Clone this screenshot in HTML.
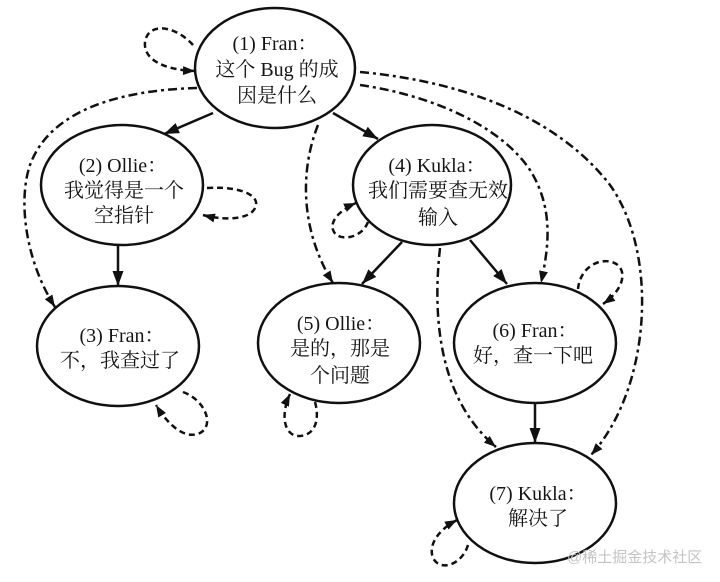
<!DOCTYPE html>
<html>
<head>
<meta charset="utf-8">
<style>
  html,body{margin:0;padding:0;background:#fff;}
  svg{display:block;}
  .t{font-family:"Liberation Serif","Noto Serif CJK SC",serif;font-size:20px;fill:#151515;text-anchor:middle;}
  .wm{font-family:"Liberation Sans","Noto Sans CJK SC",sans-serif;font-size:15px;fill:#c4c4c4;}
</style>
</head>
<body>
<svg width="720" height="582" viewBox="0 0 720 582" xmlns="http://www.w3.org/2000/svg">
  <defs>
    <marker id="s" markerWidth="16" markerHeight="12" refX="15" refY="6" orient="auto" markerUnits="userSpaceOnUse">
      <path d="M0,0.5 L15,6 L0,11.5 z" fill="#111"/>
    </marker>
    <marker id="d" markerWidth="13" markerHeight="10" refX="12" refY="5" orient="auto" markerUnits="userSpaceOnUse">
      <path d="M0,0.5 L12,5 L0,9.5 z" fill="#111"/>
    </marker>
  </defs>

  <!-- ellipses -->
  <g fill="none" stroke="#111" stroke-width="2.5">
    <ellipse cx="275" cy="68" rx="80" ry="60"/>
    <ellipse cx="122" cy="185" rx="81" ry="60"/>
    <ellipse cx="118" cy="346" rx="81" ry="60"/>
    <ellipse cx="432" cy="185" rx="79" ry="60"/>
    <ellipse cx="339" cy="343" rx="81" ry="60"/>
    <ellipse cx="535" cy="343" rx="81" ry="60"/>
    <ellipse cx="535" cy="503" rx="81" ry="60"/>
  </g>

  <!-- solid arrows -->
  <g fill="none" stroke="#111" stroke-width="2.5">
    <path d="M213,113 L164,134" marker-end="url(#s)"/>
    <path d="M333,113 L378,139" marker-end="url(#s)"/>
    <path d="M118,246 L118,286" marker-end="url(#s)"/>
    <path d="M402,242 L362,284" marker-end="url(#s)"/>
    <path d="M470,240 L507,284" marker-end="url(#s)"/>
    <path d="M535,403 L535,443" marker-end="url(#s)"/>
  </g>

  <!-- dash-dot edges -->
  <g fill="none" stroke="#111" stroke-width="2.5" stroke-dasharray="9 4 3 4">
    <path d="M197,88 C120,90 50,110 30,165 C18,200 25,260 55,307" marker-end="url(#d)"/>
    <path d="M318,125 C300,170 300,230 333,283" marker-end="url(#d)"/>
    <path d="M440,248 C432,320 440,400 496,447" marker-end="url(#d)"/>
    <path d="M360,85 C430,95 500,125 530,170 C555,210 548,250 541,283" marker-end="url(#d)"/>
    <path d="M360,72 C470,82 560,120 610,185 C660,255 650,390 591,455" marker-end="url(#d)"/>
  </g>

  <!-- self loops (dashed) -->
  <g fill="none" stroke="#111" stroke-width="2.5" stroke-dasharray="6 4">
    <path d="M193,45 C175,25 148,22 145,42 C143,60 165,70 195,71" marker-end="url(#d)"/>
    <path d="M207,188 C240,186 258,195 256,205 C254,218 230,222 203,215" marker-end="url(#d)"/>
    <path d="M368,222 C362,238 340,242 334,232 C328,222 340,210 356,203" marker-end="url(#d)"/>
    <path d="M578,289 C580,268 598,258 612,262 C628,267 626,288 603,304" marker-end="url(#d)"/>
    <path d="M183,392 C205,400 215,425 200,433 C185,440 168,425 156,405" marker-end="url(#d)"/>
    <path d="M315,402 C320,420 315,435 300,436 C284,437 280,415 290,394" marker-end="url(#d)"/>
    <path d="M468,545 C462,565 440,572 433,558 C428,545 438,530 457,520" marker-end="url(#d)"/>
  </g>

  <!-- labels -->
  <text class="t" x="275" y="50">(1) Fran：</text>
  <text class="t" x="277" y="76">这个 Bug 的成</text>
  <text class="t" x="277" y="102">因是什么</text>

  <text class="t" x="123" y="172">(2) Ollie：</text>
  <text class="t" x="124" y="197">我觉得是一个</text>
  <text class="t" x="124" y="222">空指针</text>

  <text class="t" x="122" y="342">(3) Fran：</text>
  <text class="t" x="120" y="367">不，我查过了</text>

  <text class="t" x="437" y="172">(4) Kukla：</text>
  <text class="t" x="438" y="197">我们需要查无效</text>
  <text class="t" x="438" y="224">输入</text>

  <text class="t" x="341" y="330">(5) Ollie：</text>
  <text class="t" x="340" y="355">是的，那是</text>
  <text class="t" x="340" y="382">个问题</text>

  <text class="t" x="535" y="337">(6) Fran：</text>
  <text class="t" x="533" y="362">好，查一下吧</text>

  <text class="t" x="538" y="500">(7) Kukla：</text>
  <text class="t" x="538" y="525">解决了</text>

  <text class="wm" x="567" y="562">@稀土掘金技术社区</text>
</svg>
</body>
</html>
